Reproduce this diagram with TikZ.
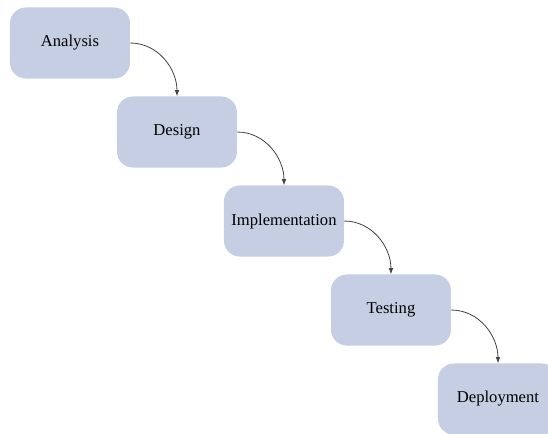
\documentclass[tikz,border=0pt]{standalone}
\usepackage{fontspec}
\setmainfont{Liberation Serif}
\usetikzlibrary{arrows.meta}
\definecolor{stagefill}{RGB}{197,206,226}
\tikzset{
    stage/.style={fill=stagefill, rounded corners=0.42cm, minimum width=3.175cm,
                  minimum height=1.88cm, inner sep=0pt, font=\fontsize{12.5}{15}\selectfont},
    flow/.style={-{Latex[length=1.6mm,width=1.2mm]}, draw=black!75, semithick}
}
\begin{document}
\begin{tikzpicture}
    \useasboundingbox (-1.852,1.138) rectangle (12.648,-10.32);

    \node[stage] (AN) at (0,0) {Analysis};
    \node[stage] (DE) at (2.831,-2.355) {Design};
    \node[stage] (IM) at (5.662,-4.710) {Implementation};
    \node[stage] (TE) at (8.493,-7.065) {Testing};
    \node[stage] (DP) at (11.324,-9.420) {Deployment};

    \draw[flow] (AN.east) to[out=0,in=90] (DE.north);
    \draw[flow] (DE.east) to[out=0,in=90] (IM.north);
    \draw[flow] (IM.east) to[out=0,in=90] (TE.north);
    \draw[flow] (TE.east) to[out=0,in=90] (DP.north);
\end{tikzpicture}
\end{document}
